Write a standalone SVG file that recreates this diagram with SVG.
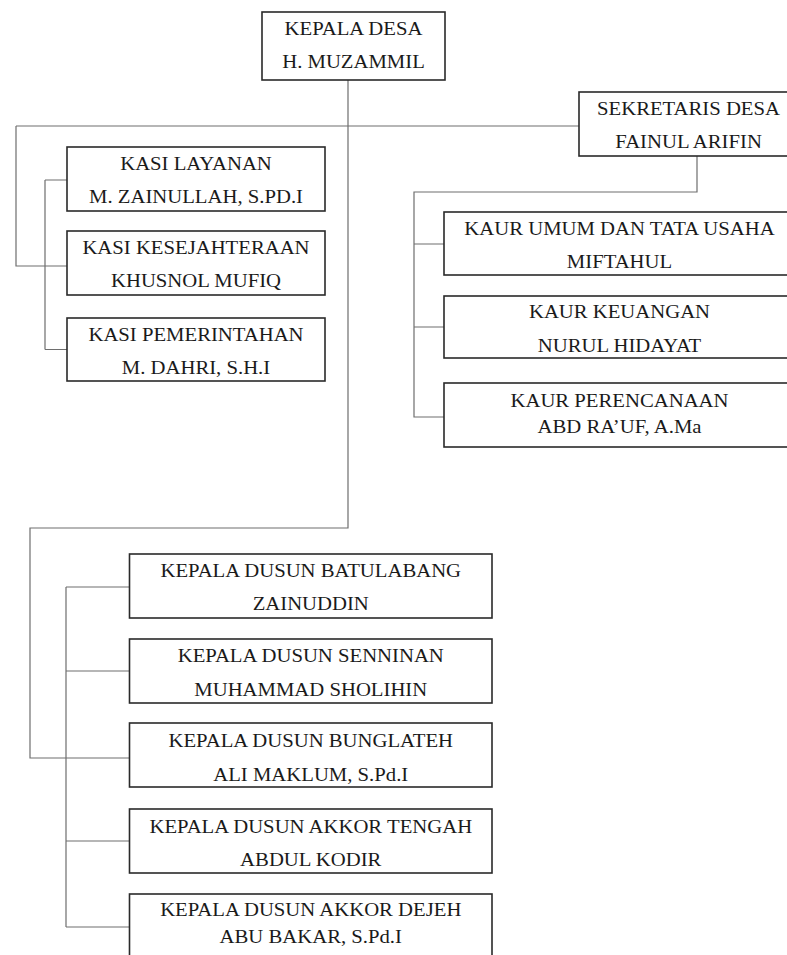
<svg xmlns="http://www.w3.org/2000/svg" width="787" height="955" viewBox="0 0 787 955">
<style>
.box{fill:#ffffff;stroke:#2a2a2a;stroke-width:1.6}
.t{font-family:"Liberation Serif","Times New Roman",serif;font-size:18.5px;fill:#1a1a1a;text-anchor:middle}
.c{fill:none;stroke:#6e6e6e;stroke-width:1.2}
</style>
<rect width="787" height="955" fill="#ffffff"/>
<g id="connectors">
<path class="c" d="M348,80 V528 H30 V758 H129.5"/>
<path class="c" d="M16,126 H579"/>
<path class="c" d="M16,126 V266 H67"/>
<path class="c" d="M45,180 V349.5 M45,180 H67 M45,349.5 H67"/>
<path class="c" d="M697,156 V192 H414 V417 H444 M414,244 H444 M414,327 H444"/>
<path class="c" d="M66,587 V927 M66,587 H129.5 M66,671 H129.5 M66,841 H129.5 M66,927 H129.5"/>
</g>
<g id="kepala-desa">
<rect class="box" x="262" y="12" width="183" height="68"/>
<text class="t" transform="translate(353.5,35) scale(1.12,1)">KEPALA DESA</text>
<text class="t" transform="translate(353.5,68) scale(1.12,1)">H. MUZAMMIL</text>
</g>
<g id="sekretaris-desa">
<rect class="box" x="579" y="92" width="220" height="64"/>
<text class="t" transform="translate(688.5,115) scale(1.12,1)">SEKRETARIS DESA</text>
<text class="t" transform="translate(688.5,148) scale(1.12,1)">FAINUL ARIFIN</text>
</g>
<g id="kasi-layanan">
<rect class="box" x="67" y="147" width="258" height="64"/>
<text class="t" transform="translate(196,170) scale(1.12,1)">KASI LAYANAN</text>
<text class="t" transform="translate(196,203) scale(1.12,1)">M. ZAINULLAH, S.PD.I</text>
</g>
<g id="kasi-kesejahteraan">
<rect class="box" x="67" y="231" width="258" height="64"/>
<text class="t" transform="translate(196,254) scale(1.12,1)">KASI KESEJAHTERAAN</text>
<text class="t" transform="translate(196,287) scale(1.12,1)">KHUSNOL MUFIQ</text>
</g>
<g id="kasi-pemerintahan">
<rect class="box" x="67" y="318" width="258" height="63"/>
<text class="t" transform="translate(196,341) scale(1.12,1)">KASI PEMERINTAHAN</text>
<text class="t" transform="translate(196,374) scale(1.12,1)">M. DAHRI, S.H.I</text>
</g>
<g id="kaur-umum">
<rect class="box" x="444" y="212" width="351" height="63"/>
<text class="t" transform="translate(619.5,235) scale(1.12,1)">KAUR UMUM DAN TATA USAHA</text>
<text class="t" transform="translate(619.5,268) scale(1.12,1)">MIFTAHUL</text>
</g>
<g id="kaur-keuangan">
<rect class="box" x="444" y="296" width="351" height="62"/>
<text class="t" transform="translate(619.5,318) scale(1.12,1)">KAUR KEUANGAN</text>
<text class="t" transform="translate(619.5,352) scale(1.12,1)">NURUL HIDAYAT</text>
</g>
<g id="kaur-perencanaan">
<rect class="box" x="444" y="383" width="351" height="64"/>
<text class="t" transform="translate(619.5,407) scale(1.12,1)">KAUR PERENCANAAN</text>
<text class="t" transform="translate(619.5,433) scale(1.12,1)">ABD RA’UF, A.Ma</text>
</g>
<g id="dusun-batulabang">
<rect class="box" x="129.5" y="554" width="362.5" height="64"/>
<text class="t" transform="translate(310.75,577) scale(1.12,1)">KEPALA DUSUN BATULABANG</text>
<text class="t" transform="translate(310.75,610) scale(1.12,1)">ZAINUDDIN</text>
</g>
<g id="dusun-senninan">
<rect class="box" x="129.5" y="639" width="362.5" height="64"/>
<text class="t" transform="translate(310.75,662) scale(1.12,1)">KEPALA DUSUN SENNINAN</text>
<text class="t" transform="translate(310.75,696) scale(1.12,1)">MUHAMMAD SHOLIHIN</text>
</g>
<g id="dusun-bunglateh">
<rect class="box" x="129.5" y="723" width="362.5" height="64"/>
<text class="t" transform="translate(310.75,747) scale(1.12,1)">KEPALA DUSUN BUNGLATEH</text>
<text class="t" transform="translate(310.75,781) scale(1.12,1)">ALI MAKLUM, S.Pd.I</text>
</g>
<g id="dusun-akkor-tengah">
<rect class="box" x="129.5" y="809" width="362.5" height="64"/>
<text class="t" transform="translate(310.75,833) scale(1.12,1)">KEPALA DUSUN AKKOR TENGAH</text>
<text class="t" transform="translate(310.75,866) scale(1.12,1)">ABDUL KODIR</text>
</g>
<g id="dusun-akkor-dejeh">
<rect class="box" x="129.5" y="894" width="362.5" height="72"/>
<text class="t" transform="translate(310.75,916) scale(1.12,1)">KEPALA DUSUN AKKOR DEJEH</text>
<text class="t" transform="translate(310.75,943) scale(1.12,1)">ABU BAKAR, S.Pd.I</text>
</g>
</svg>
